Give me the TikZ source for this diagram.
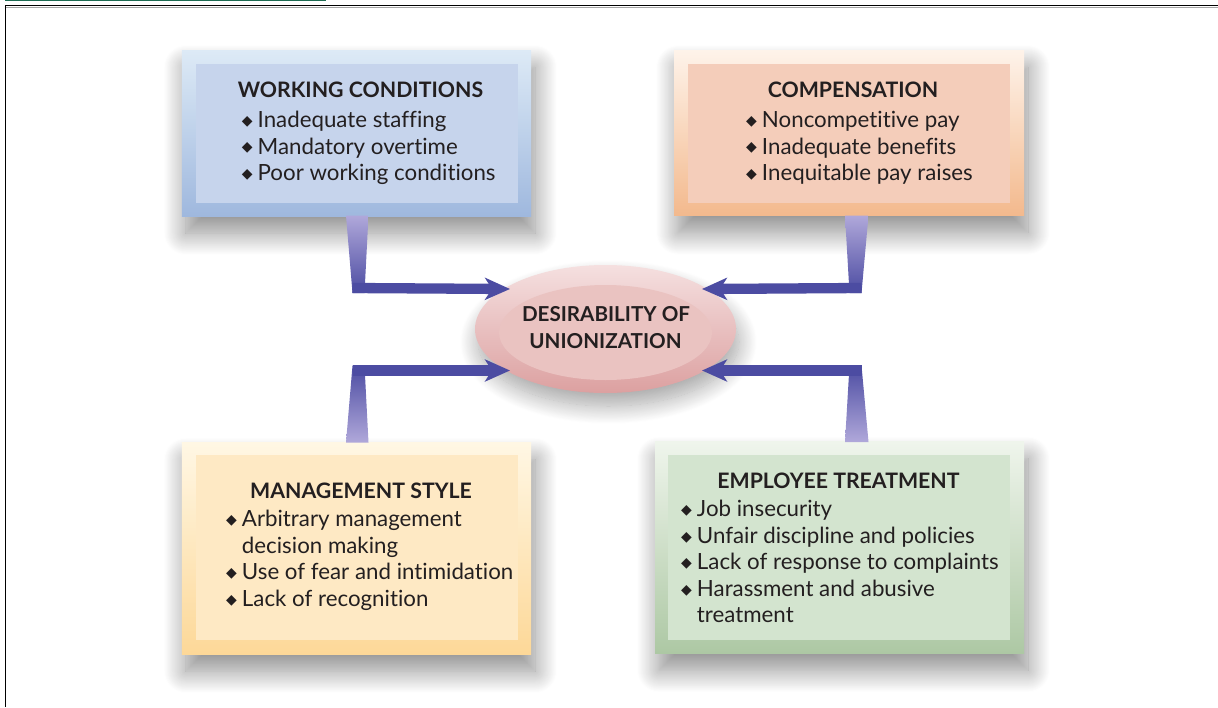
\documentclass[tikz,border=0pt]{standalone}
\usepackage{fontspec}
\setmainfont{Lato}[Ligatures=NoCommon]
\newfontfamily\djv{DejaVu Sans}
\usetikzlibrary{arrows.meta,shapes.geometric,shadows.blur,calc}
\definecolor{wcT}{HTML}{DDEAF6}\definecolor{wcB}{HTML}{9FB8DE}\definecolor{wcI}{HTML}{C6D4EC}
\definecolor{cpT}{HTML}{FEF3EA}\definecolor{cpB}{HTML}{F3B98D}\definecolor{cpI}{HTML}{F4CDBA}
\definecolor{msT}{HTML}{FFF7E4}\definecolor{msB}{HTML}{FDD898}\definecolor{msI}{HTML}{FEE9C4}
\definecolor{etT}{HTML}{EFF5EC}\definecolor{etB}{HTML}{ADC8A4}\definecolor{etI}{HTML}{D3E4CF}
\definecolor{elT}{HTML}{F5E0E0}\definecolor{elB}{HTML}{DCA0A0}\definecolor{elI}{HTML}{EAC3C1}
\definecolor{arL}{HTML}{B0A8DA}\definecolor{arD}{HTML}{4C4CA2}
\definecolor{txt}{HTML}{231F20}\definecolor{hdrgreen}{HTML}{1E6B52}
\newcommand\bul{{\djv\fontsize{14}{14}\selectfont\raisebox{2.3pt}{◆}}}
\begin{document}
\begin{tikzpicture}[x=1pt,y=-1pt,
  box/.style={rectangle, inner sep=0, draw=none,
    blur shadow={shadow xshift=4pt, shadow yshift=-17pt, shadow blur radius=22pt, shadow opacity=45, shadow blur steps=24}},
  inbox/.style={rectangle, inner sep=0, draw=none},
  head/.style={anchor=base, inner sep=0, text=txt, font=\bfseries\fontsize{21.3}{21.3}\selectfont},
  ehead/.style={anchor=base, inner sep=0, text=txt, font=\bfseries\fontsize{20.6}{20.6}\selectfont},
  lst/.style={anchor=north west, inner sep=0, text=txt, font=\fontsize{22.3}{26.5}\selectfont},
  bar/.style={line width=10.3pt, draw=arD, -{Stealth[length=25pt, width=22pt, inset=7pt]}},
  stem/.style={draw=none}]
\useasboundingbox (0,0) rectangle (1218,707);
% frame
\draw[hdrgreen, line width=1.5pt] (5,0.6) -- (326,0.6);
\draw[black, line width=1.6pt] (5,5.3) -- (1218,5.3);
\draw[black!35, line width=0.8pt] (5,7.2) -- (1218,7.2);
\draw[black, line width=1pt] (5.8,5) -- (5.8,707);
% boxes
\node[box, top color=wcT, bottom color=wcB, minimum width=349.3, minimum height=166] (wc) at (356.4,133) {};
\node[inbox, fill=wcI, minimum width=321.7, minimum height=139.3] (wci) at (356.9,133.7) {};
\node[box, top color=cpT, bottom color=cpB, minimum width=350, minimum height=165.7] (cp) at (849,132.9) {};
\node[inbox, fill=cpI, minimum width=321.7, minimum height=139.3] (cpi) at (849.2,133.7) {};
\node[box, top color=msT, bottom color=msB, minimum width=349.3, minimum height=211.3] (ms) at (356.4,548.4) {};
\node[inbox, fill=msI, minimum width=321.7, minimum height=185] (msi) at (356.9,547.5) {};
\node[box, top color=etT, bottom color=etB, minimum width=369, minimum height=211.6] (et) at (839.5,547.5) {};
\node[inbox, fill=etI, minimum width=342.3, minimum height=185] (eti) at (838.9,547.5) {};
% centre ellipse
\node[ellipse, inner sep=0, top color=elT, bottom color=elB, minimum width=261, minimum height=128,
  blur shadow={shadow xshift=3pt, shadow yshift=-13pt, shadow blur radius=18pt, shadow opacity=35, shadow blur steps=24}] (cen) at (605.5,329) {};
\node[ellipse, inner sep=0, fill=elI, minimum width=213, minimum height=95] (ceni) at (605.5,332.5) {};
\node[ehead] (cent1) at (606,321.7) {DESIRABILITY OF};
\node[ehead] (cent2) at (605.5,348.3) {UNIONIZATION};
% headings and lists
\node[head] (wch) at (360.5,97.3) {WORKING CONDITIONS};
\node[lst] (wcl) at (241.7,108.8) {\begin{tabular}{@{}l@{\hspace{5pt}}l@{}}\bul & Inadequate staffing\\ \bul & Mandatory overtime\\ \bul & Poor working conditions\end{tabular}};
\node[head] (cph) at (853,97.3) {COMPENSATION};
\node[lst] (cpl) at (746,108.8) {\begin{tabular}{@{}l@{\hspace{5pt}}l@{}}\bul & Noncompetitive pay\\ \bul & Inadequate benefits\\ \bul & Inequitable pay raises\end{tabular}};
\node[head] (msh) at (361,498) {MANAGEMENT STYLE};
\node[lst] (msl) at (226,508.2) {\begin{tabular}{@{}l@{\hspace{5pt}}l@{}}\bul & Arbitrary management\\ & decision making\\ \bul & Use of fear and intimidation\\ \bul & Lack of recognition\end{tabular}};
\node[head] (eth) at (838.5,488.3) {EMPLOYEE TREATMENT};
\node[lst] (etl) at (681,498.2) {\begin{tabular}{@{}l@{\hspace{5pt}}l@{}}\bul & Job insecurity\\ \bul & Unfair discipline and policies\\ \bul & Lack of response to complaints\\ \bul & Harassment and abusive\\ & treatment\end{tabular}};
% connectors
\coordinate (wcb) at (352.5,288);
\coordinate (twc) at ($(cen.center)+(-95.5,-40)$);
\coordinate (cpb) at (861.5,288);
\coordinate (tcp) at ($(cen.center)+(96.5,-40)$);
\coordinate (msb) at (352.5,370.5);
\coordinate (tms) at ($(cen.center)+(-95.5,41.5)$);
\coordinate (etb) at (861.5,370.5);
\coordinate (tet) at ($(cen.center)+(96.5,41.5)$);
\shade[stem, top color=arL, bottom color=arD] (346,215.5) -- (368.5,215.5) -- (364.5,293) -- (352.5,293) -- cycle;
\shade[stem, top color=arL, bottom color=arD] (845,215.5) -- (868.5,215.5) -- (861.5,293) -- (849.5,293) -- cycle;
\shade[stem, top color=arD, bottom color=arL] (352.5,365.5) -- (364.5,365.5) -- (368.5,442.5) -- (346,442.5) -- cycle;
\shade[stem, top color=arD, bottom color=arL] (849.5,365.5) -- (861.5,365.5) -- (868.5,442) -- (845,442) -- cycle;
\draw[bar] (wcb) -- (twc);
\draw[bar] (cpb) -- (tcp);
\draw[bar] (msb) -- (tms);
\draw[bar] (etb) -- (tet);
\end{tikzpicture}
\end{document}
